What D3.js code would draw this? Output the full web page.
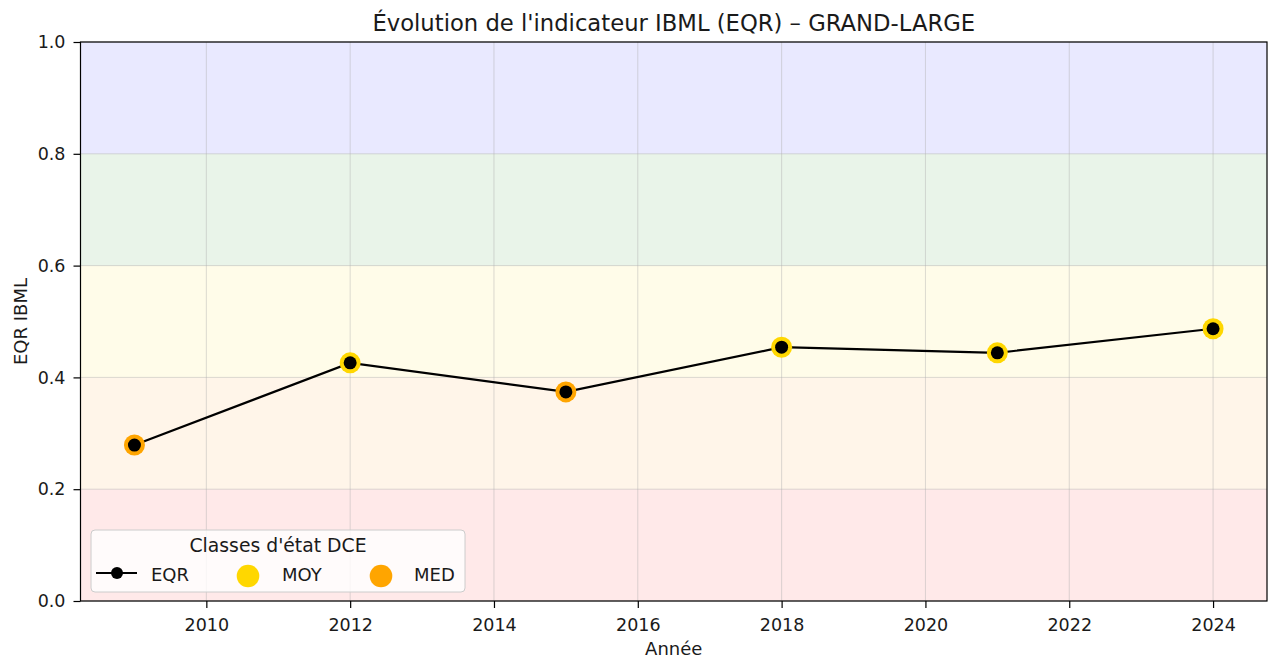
<!DOCTYPE html>
<html>
<head>
<meta charset="UTF-8" />
<style>
  body { margin: 0; background: #fff; }
  svg text { font-family: "DejaVu Sans", sans-serif; fill: #000; }
</style>
</head>
<body>
<svg></svg>
<script src="https://d3js.org/d3.v7.min.js"></script>
<script>
  const years = [2009, 2012, 2015, 2018, 2021, 2024]
  const eqr = [0.279, 0.426, 0.374, 0.454, 0.444, 0.487]
  const classes = ['MED', 'MOY', 'MED', 'MOY', 'MOY', 'MOY']
  const xTicks = [2010, 2012, 2014, 2016, 2018, 2020, 2022, 2024]
  const yTicks = [0, 0.2, 0.4, 0.6, 0.8, 1.0]
  const bandLimits = [[0, 0.2], [0.2, 0.4], [0.4, 0.6], [0.6, 0.8], [0.8, 1.0]]
  const bandColors = ['#ff0000', '#ff8c00', '#ffd700', '#008000', '#0000ff']
  const classColor = { MOY: '#ffd700', MED: '#ffa500' }

  let width = 1279, height = 659
  let margin = { left: 80.5, right: 12, top: 42, bottom: 58 }

  let svg = d3.select('svg').attr('width', width).attr('height', height)

  let x = d3.scaleLinear().domain([2008.25, 2024.75]).range([margin.left, width - margin.right])
  let y = d3.scaleLinear().domain([0, 1]).range([height - margin.bottom, margin.top])

  // colored state bands
  svg.append('g')
    .selectAll('rect')
    .data(bandLimits)
    .enter()
    .append('rect')
    .attr('x', margin.left)
    .attr('width', width - margin.right - margin.left)
    .attr('y', d => y(d[1]))
    .attr('height', d => y(d[0]) - y(d[1]))
    .attr('fill', (d, i) => bandColors[i])
    .attr('fill-opacity', 0.085)

  // grid
  let grid = svg.append('g').attr('stroke', '#b0b0b0').attr('stroke-opacity', 0.45).attr('stroke-width', 1)
  grid.selectAll('.gx').data(xTicks).enter().append('line')
    .attr('x1', d => x(d)).attr('x2', d => x(d))
    .attr('y1', y(0)).attr('y2', y(1))
  grid.selectAll('.gy').data(yTicks).enter().append('line')
    .attr('x1', x.range()[0]).attr('x2', x.range()[1])
    .attr('y1', d => y(d)).attr('y2', d => y(d))

  // axes
  let xAxis = svg.append('g')
    .attr('transform', 'translate(0,' + y(0) + ')')
    .call(d3.axisBottom(x).tickValues(xTicks).tickFormat(d3.format('d')).tickSize(7))
  xAxis.selectAll('text').attr('y', 30).attr('dy', null)
  let yAxis = svg.append('g')
    .attr('transform', 'translate(' + margin.left + ',0)')
    .call(d3.axisLeft(y).tickValues(yTicks).tickFormat(d3.format('.1f')).tickSize(7).tickPadding(8))
  ;[xAxis, yAxis].forEach(a => {
    a.select('.domain').remove()
    a.selectAll('text').attr('font-size', 17.5).style('fill', '#1a1a1a')
    a.selectAll('line').attr('stroke', '#000').attr('stroke-width', 1.2)
  })

  // frame
  svg.append('rect')
    .attr('x', margin.left).attr('y', margin.top)
    .attr('width', width - margin.right - margin.left)
    .attr('height', y(0) - y(1))
    .attr('fill', 'none').attr('stroke', '#000').attr('stroke-width', 1.2)

  // line
  let pts = years.map((d, i) => [d, eqr[i], classes[i]])
  svg.append('path')
    .datum(pts)
    .attr('fill', 'none')
    .attr('stroke', '#000')
    .attr('stroke-width', 2.2)
    .attr('d', d3.line().x(d => x(d[0])).y(d => y(d[1])))

  // class markers
  svg.append('g').selectAll('circle').data(pts).enter().append('circle')
    .attr('cx', d => x(d[0])).attr('cy', d => y(d[1])).attr('r', 10.5)
    .attr('fill', d => classColor[d[2]])
  svg.append('g').selectAll('circle').data(pts).enter().append('circle')
    .attr('cx', d => x(d[0])).attr('cy', d => y(d[1])).attr('r', 6.5)
    .attr('fill', '#000')

  // title and labels
  let cx = (x.range()[0] + x.range()[1]) / 2
  svg.append('text').attr('x', cx).attr('y', 31)
    .attr('text-anchor', 'middle').attr('font-size', 22.7).style('fill', '#1a1a1a')
    .text("Évolution de l'indicateur IBML (EQR) – GRAND-LARGE")
  svg.append('text').attr('x', cx).attr('y', 655)
    .attr('text-anchor', 'middle').attr('font-size', 18).style('fill', '#1a1a1a').text('Année')
  svg.append('text').attr('transform', 'translate(27,' + y(0.5) + ') rotate(-90)')
    .attr('text-anchor', 'middle').attr('font-size', 18).style('fill', '#1a1a1a').text('EQR IBML')

  // legend
  let lg = svg.append('g').attr('transform', 'translate(91,530)')
  lg.append('rect').attr('width', 374).attr('height', 62).attr('rx', 4)
    .attr('fill', '#fff').attr('fill-opacity', 0.8).attr('stroke', '#cccccc')
  lg.append('text').attr('x', 187).attr('y', 22).attr('text-anchor', 'middle')
    .attr('font-size', 18.8).style('fill', '#1a1a1a').text("Classes d'état DCE")
  lg.append('line').attr('x1', 5).attr('x2', 46).attr('y1', 43).attr('y2', 43)
    .attr('stroke', '#000').attr('stroke-width', 2.2)
  lg.append('circle').attr('cx', 26).attr('cy', 43).attr('r', 6).attr('fill', '#000')
  lg.append('text').attr('x', 60).attr('y', 51).attr('font-size', 18).style('fill', '#1a1a1a').text('EQR')
  let legendClasses = ['MOY', 'MED']
  legendClasses.forEach((c, i) => {
    lg.append('circle').attr('cx', 157 + i * 133).attr('cy', 46).attr('r', 11.3).attr('fill', classColor[c])
    lg.append('text').attr('x', 191 + i * 132).attr('y', 51).attr('font-size', 18).style('fill', '#1a1a1a').text(c)
  })
</script>
</body>
</html>
